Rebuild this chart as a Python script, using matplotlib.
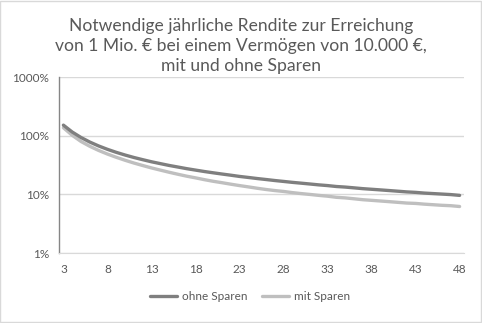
import matplotlib
matplotlib.use("Agg")
import matplotlib.pyplot as plt
from matplotlib.ticker import FixedLocator, FuncFormatter, NullLocator
from matplotlib.patches import Rectangle

plt.rcParams['font.family'] = ['Lato', 'DejaVu Sans']

# Jahre (Kategorien)
jahre = list(range(3, 49))

# Notwendige Rendite in %, ohne Sparen
ohne_sparen = [151.2, 115.4, 93.1, 77.8, 66.8, 58.5, 52.0, 46.8, 42.5, 39.0,
               35.9, 33.4, 31.1, 29.2, 27.4, 25.9, 24.5, 23.3, 22.2, 21.2,
               20.2, 19.4, 18.6, 17.9, 17.2, 16.6, 16.0, 15.5, 15.0, 14.5,
               14.1, 13.6, 13.3, 12.9, 12.5, 12.2, 11.9, 11.6, 11.3, 11.0,
               10.8, 10.5, 10.3, 10.1, 9.9, 9.6]

# Notwendige Rendite in %, mit Sparen
mit_sparen = [136.5, 101.4, 79.6, 65.9, 56.0, 48.6, 42.8, 38.1, 34.2, 31.0,
              28.2, 25.9, 23.8, 22.0, 20.4, 19.1, 17.8, 16.7, 15.8, 14.9,
              14.1, 13.4, 12.7, 12.1, 11.6, 11.2, 10.7, 10.3, 9.96, 9.6,
              9.3, 8.9, 8.7, 8.4, 8.1, 7.9, 7.7, 7.5, 7.3, 7.1,
              7.0, 6.8, 6.65, 6.5, 6.4, 6.2]

x_ticks = list(range(3, 49, 5))
y_ticks = [1, 10, 100, 1000]

W, H = 482, 323
fig = plt.figure(figsize=(W / 100, H / 100), dpi=100)
ax = fig.add_axes([59 / W, 1 - 253 / H, (464 - 59) / W, (253 - 77) / H])

ax.plot(jahre, ohne_sparen, color='#7f7f7f', lw=2.4, label='ohne Sparen',
        solid_capstyle='round', zorder=3)
ax.plot(jahre, mit_sparen, color='#bfbfbf', lw=2.4, label='mit Sparen',
        solid_capstyle='round', zorder=2)

ax.set_yscale('log')
ax.set_ylim(1, 1000)
ax.set_xlim(2.5, 48.5)
ax.yaxis.set_major_locator(FixedLocator(y_ticks))
ax.yaxis.set_minor_locator(NullLocator())
ax.yaxis.set_major_formatter(FuncFormatter(lambda v, p: f"{v:g}%"))
ax.set_xticks(x_ticks)

ax.grid(axis='y', color='#d9d9d9', lw=1)
ax.set_axisbelow(True)
for s in ['top', 'right']:
    ax.spines[s].set_visible(False)
ax.spines['bottom'].set_color('#d9d9d9')
ax.spines['left'].set_color('#868686')
ax.spines['left'].set_linewidth(1)
ax.tick_params(length=0, labelsize=8.5, colors='#595959')
ax.tick_params(axis='y', pad=7)
ax.tick_params(axis='x', pad=8)

fig.text(0.5, 1 - 46 / H,
         "Notwendige jährliche Rendite zur Erreichung\n"
         "von 1 Mio. € bei einem Vermögen von 10.000 €,\n"
         "mit und ohne Sparen",
         ha='center', va='center', fontsize=12.6, color='#595959',
         linespacing=1.32)

fig.legend(loc='center', bbox_to_anchor=(250 / W, 1 - 297 / H), ncol=2,
           frameon=False, fontsize=8.5, labelcolor='#595959', handlelength=2.3,
           handletextpad=0.4, columnspacing=1.2)

fig.patches.append(Rectangle((0.001, 0.002), 0.997, 0.996, transform=fig.transFigure,
                             fill=False, edgecolor='#d9d9d9', lw=1))

fig.savefig('out.png', dpi=100)
